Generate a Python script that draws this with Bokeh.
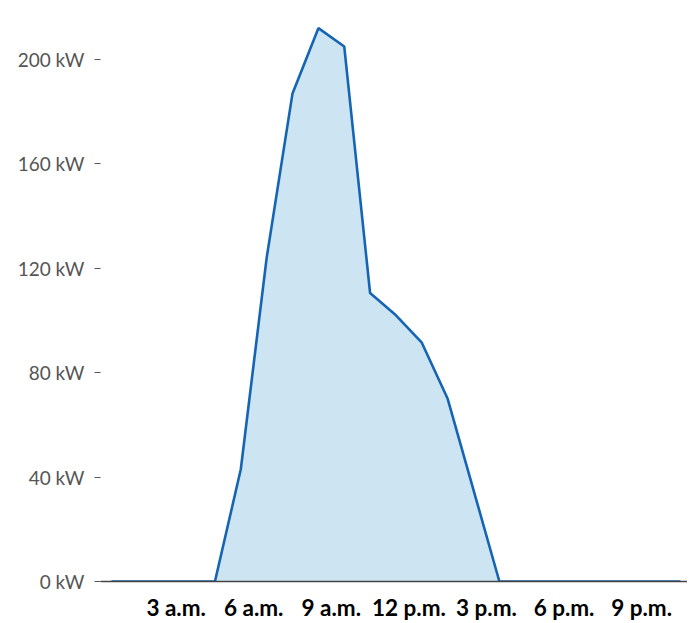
from bokeh.plotting import figure
from bokeh.models import FixedTicker, Range1d, ColumnDataSource
from bokeh.embed import file_html
from bokeh.resources import INLINE

# Hourly power (kW), one value per hour starting at midnight
hours = list(range(23))
power_kw = [0, 0, 0, 0, 0, 43, 124, 187, 212, 205, 110.5, 102, 91.5, 70, 35,
            0, 0, 0, 0, 0, 0, 0, 0]
tick_hours = [3, 6, 9, 12, 15, 18, 21]
tick_labels = ["3 a.m.", "6 a.m.", "9 a.m.", "12 p.m.", "3 p.m.", "6 p.m.", "9 p.m."]
y_ticks = [0, 40, 80, 120, 160, 200]

# plot each hourly value at the middle of its hour
xs = [h + 0.5 for h in hours]
src = ColumnDataSource(dict(x=xs, y=power_kw, y0=[0] * len(xs)))

p = figure(width=687, height=623, output_backend="svg", toolbar_location=None,
           x_range=Range1d(0.0746, 22.774), y_range=Range1d(0, 222.6))
p.min_border_left = 100
p.min_border_right = 0
p.min_border_top = 0
p.min_border_bottom = 0
p.outline_line_color = None
p.grid.visible = False
p.background_fill_color = "white"
p.border_fill_color = "white"

p.varea(x="x", y1="y0", y2="y", source=src, fill_color="#cde4f3", fill_alpha=1.0)
p.line(x="x", y="y", source=src, line_color="#1565b2", line_width=2.6)

# x axis
xa = p.xaxis[0]
xa.ticker = FixedTicker(ticks=tick_hours)
xa.major_label_overrides = {t: l for t, l in zip(tick_hours, tick_labels)}
xa.major_tick_out = 0
xa.major_tick_in = 0
xa.minor_tick_out = 0
xa.minor_tick_in = 0
xa.axis_line_color = "#444444"
xa.axis_line_width = 1.3
xa.major_label_text_font = "Lato"
xa.major_label_text_font_style = "bold"
xa.major_label_text_font_size = "22.5px"
xa.major_label_text_color = "black"
xa.major_label_standoff = 12

# y axis
ya = p.yaxis[0]
ya.ticker = FixedTicker(ticks=y_ticks)
ya.major_label_overrides = {t: f"{t} kW" for t in y_ticks}
ya.axis_line_color = None
ya.major_tick_out = 6
ya.major_tick_in = 0
ya.minor_tick_out = 0
ya.minor_tick_in = 0
ya.major_tick_line_color = "#555555"
ya.major_label_text_font = "Lato"
ya.major_label_text_font_size = "19px"
ya.major_label_text_color = "#555555"
ya.major_label_standoff = 10

open("out.html", "w").write(file_html(p, INLINE))
